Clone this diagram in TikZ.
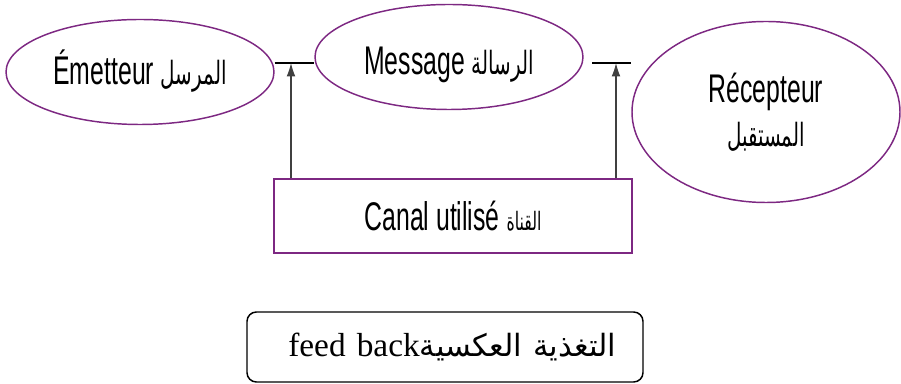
\documentclass[tikz,border=0pt]{standalone}
\usepackage{fontspec}
\setmainfont{Liberation Serif}
\newfontfamily\narrowfont[FakeStretch=0.62]{Liberation Sans}
\newfontfamily\arabicfont[Script=Arabic,FakeStretch=0.62]{DejaVu Sans}
\newfontfamily\arabicwide[Script=Arabic]{DejaVu Sans}
\TeXXeTstate=1
\usetikzlibrary{shapes.geometric, arrows.meta}
\definecolor{prune}{RGB}{125,40,130}

\begin{document}
\begin{tikzpicture}[x=0.75pt, y=-0.75pt,
        main/.style = {draw=prune, line width=1.1pt, ellipse, inner sep=0pt, minimum width=201pt, minimum height=78.75pt, font=\narrowfont\fontsize{30}{32}\selectfont},
        canal/.style = {draw=prune, line width=1.1pt, rectangle, inner sep=0pt, minimum width=268.5pt, minimum height=55.5pt, font=\narrowfont\fontsize{30}{32}\selectfont},
        fb/.style = {draw, line width=1.1pt, rounded corners=7pt, inner sep=0pt, text width=297pt, align=left, minimum height=52.5pt, font=\fontsize{25}{28}\selectfont},
        up/.style = {-{Latex[length=10pt, width=6.5pt]}, black!75, line width=0.8pt}]
                \useasboundingbox (0,0) rectangle (901,384);
                \node[main, text height=22pt, text depth=2.5pt] (1) at (140,72) {Émetteur {\arabicfont\fontsize{24}{26}\selectfont\beginR المرسل\endR}};
                \node[main, text height=29pt, text depth=2pt] (2) at (449,57) {Message {\arabicfont\fontsize{24}{26}\selectfont\beginR الرسالة\endR}};
                \node[main, minimum height=135.75pt, align=center] (3) at (766,112) {Récepteur\\[1pt]{\arabicfont\fontsize{24}{26}\selectfont\beginR المستقبل\endR}};
                \node[canal] (4) at (453,216) {Canal utilisé {\arabicfont\fontsize{19}{20}\selectfont\beginR القناة\endR}};
                \node[fb] (5) at (445,347) {\hspace*{31pt}\mbox{feed back{\arabicwide\fontsize{23}{26}\selectfont\beginR التغذية العكسية\endR}}};

                \coordinate (a) at (291,63);
                \coordinate (b) at (616,63);
                \coordinate (c) at (592,63);
                \draw[line width=1pt] (1.east |- a) -- (2.west |- a);
                \draw[line width=1pt] (c) -- (3.west |- b);
                \draw[up] (4.north -| a) -- (a);
                \draw[up] (4.north -| b) -- (b);

            \end{tikzpicture}
\end{document}
